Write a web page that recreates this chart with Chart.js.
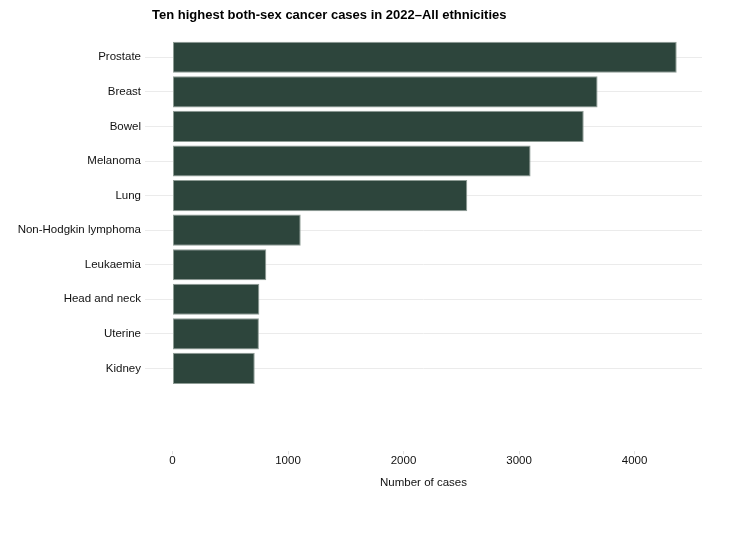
<!DOCTYPE html>
<html>
<head>
<meta charset="utf-8">
<script src="https://cdn.jsdelivr.net/npm/chart.js@4"></script>
<style>
  html, body { margin: 0; padding: 0; background: #fff; }
  #wrap { width: 739px; height: 554px; }
</style>
</head>
<body>
<div id="wrap"><canvas id="cancerChart"></canvas></div>
<script>
const chartTitle = 'Ten highest both-sex cancer cases in 2022\u2013All ethnicities';
const cancerTypes = ['Prostate', 'Breast', 'Bowel', 'Melanoma', 'Lung',
  'Non-Hodgkin lymphoma', 'Leukaemia', 'Head and neck', 'Uterine', 'Kidney'];
const caseCounts = [4365, 3680, 3560, 3100, 2552, 1110, 812, 752, 748, 712];
const xTickValues = [0, 1000, 2000, 3000, 4000];

Chart.defaults.font.family = '"Liberation Sans", Arial, sans-serif';
Chart.defaults.color = '#111';

// title sits left, a bit inside the plot edge, so it is drawn by hand
const titlePlugin = {
  id: 'leftTitle',
  afterDraw: function (chart) {
    const ctx = chart.ctx;
    ctx.save();
    ctx.font = 'bold 13px "Liberation Sans", Arial, sans-serif';
    ctx.fillStyle = '#000';
    ctx.textBaseline = 'middle';
    ctx.textAlign = 'left';
    ctx.fillText(chartTitle, 152, 15);
    ctx.restore();
  }
};

const ctx = document.getElementById('cancerChart').getContext('2d');
const cancerChart = new Chart(ctx, {
  type: 'bar',
  data: {
    datasets: [{
      label: 'Number of cases',
      data: cancerTypes.map((name, i) => ({ x: caseCounts[i], y: i })),
      backgroundColor: '#2d453c',
      borderColor: '#8e9c95',
      borderWidth: 1,
      borderSkipped: false,
      barPercentage: 0.9,
      categoryPercentage: 1.0
    }]
  },
  plugins: [titlePlugin],
  options: {
    indexAxis: 'y',
    responsive: true,
    maintainAspectRatio: false,
    animation: false,
    layout: {
      padding: { top: 40, right: 37, bottom: 64, left: 0 }
    },
    plugins: {
      legend: { display: false },
      tooltip: { enabled: false },
      title: { display: false }
    },
    scales: {
      x: {
        type: 'linear',
        min: -238,
        max: 4584,
        afterBuildTicks: function (scale) {
          scale.ticks = xTickValues.map(v => ({ value: v }));
        },
        ticks: {
          padding: 0,
          font: { size: 11.5 },
          color: '#111',
          callback: function (value) {
            return String(value);
          }
        },
        grid: {
          drawOnChartArea: false,
          drawTicks: true,
          tickLength: 3,
          color: '#e0e0e0'
        },
        border: { display: false },
        title: {
          display: true,
          text: 'Number of cases',
          font: { size: 11.5 },
          color: '#111',
          padding: { top: 8, bottom: 0 }
        }
      },
      y: {
        type: 'linear',
        reverse: true,
        offset: false,
        min: -0.5,
        max: 11.4,
        afterBuildTicks: function (scale) {
          scale.ticks = cancerTypes.map((name, i) => ({ value: i }));
        },
        afterFit: function (scale) {
          scale.width = 145;
        },
        ticks: {
          padding: 4,
          font: { size: 11.5 },
          color: '#111',
          callback: function (value) {
            return cancerTypes[value];
          }
        },
        grid: {
          offset: false,
          color: '#ebebeb',
          lineWidth: 1,
          drawTicks: false
        },
        border: { display: false }
      }
    }
  }
});
</script>
</body>
</html>
